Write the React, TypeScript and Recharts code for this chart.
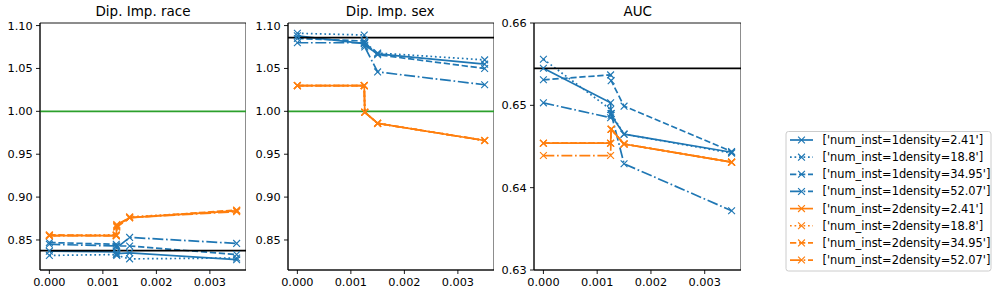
import { LineChart, Line, XAxis, YAxis, ReferenceLine, ReferenceArea } from "recharts"

const BLUE = "#1f77b4"
const ORANGE = "#ff7f0e"
const GREEN = "#2ca02c"
const FONT = "DejaVu Sans, sans-serif"

// x positions shared by every run
const xs = [0, 0.00125, 0.00126, 0.0015, 0.0035]
const xTicks = [0, 0.001, 0.002, 0.003]
const dipTicks = [0.85, 0.9, 0.95, 1.0, 1.05, 1.1]
const aucTicks = [0.63, 0.64, 0.65, 0.66]

const seriesNames = [
  "['num_inst=1density=2.41']",
  "['num_inst=1density=18.8']",
  "['num_inst=1density=34.95']",
  "['num_inst=1density=52.07']",
  "['num_inst=2density=2.41']",
  "['num_inst=2density=18.8']",
  "['num_inst=2density=34.95']",
  "['num_inst=2density=52.07']",
]

// Dip. Imp. race
const race1_241 = [0.837, 0.836, 0.834, 0.835, 0.827]
const race1_188 = [0.832, 0.833, 0.832, 0.828, 0.829]
const race1_3495 = [0.847, 0.845, 0.843, 0.843, 0.833]
const race1_5207 = [0.845, 0.843, 0.841, 0.853, 0.846]
const race2_241 = [0.855, 0.855, 0.867, 0.876, 0.884]
const race2_188 = [0.855, 0.856, 0.866, 0.877, 0.884]
const race2_3495 = [0.856, 0.855, 0.868, 0.876, 0.885]
const race2_5207 = [0.855, 0.855, 0.865, 0.876, 0.883]

// Dip. Imp. sex
const sex1_241 = [1.088, 1.079, 1.077, 1.067, 1.055]
const sex1_188 = [1.091, 1.089, 1.08, 1.068, 1.06]
const sex1_3495 = [1.085, 1.082, 1.08, 1.066, 1.05]
const sex1_5207 = [1.08, 1.08, 1.075, 1.046, 1.031]
const sex2_241 = [1.03, 1.03, 0.999, 0.986, 0.966]
const sex2_188 = [1.03, 1.03, 0.999, 0.986, 0.966]
const sex2_3495 = [1.03, 1.03, 0.999, 0.986, 0.966]
const sex2_5207 = [1.03, 1.03, 0.999, 0.986, 0.966]

// AUC
const auc1_241 = [0.6545, 0.6503, 0.6488, 0.6465, 0.6443]
const auc1_188 = [0.6556, 0.6495, 0.649, 0.6465, 0.6442]
const auc1_3495 = [0.6531, 0.6537, 0.653, 0.6499, 0.6444]
const auc1_5207 = [0.6503, 0.6485, 0.649, 0.6429, 0.6372]
const auc2_241 = [0.6454, 0.6454, 0.6471, 0.6453, 0.6431]
const auc2_188 = [0.6454, 0.6454, 0.6471, 0.6453, 0.6431]
const auc2_3495 = [0.6454, 0.6454, 0.6471, 0.6453, 0.6431]
const auc2_5207 = [0.6439, 0.6439, 0.6471, 0.6453, 0.6431]

// baselines drawn as horizontal lines
const raceBaseline = 0.8375
const sexBaseline = 1.086
const aucBaseline = 0.6545
const parity = 1.0

const dashes = [undefined, "1.7 2.8", "6.3 2.7", "10.9 2.7 1.7 2.7"]
const colors = [BLUE, BLUE, BLUE, BLUE, ORANGE, ORANGE, ORANGE, ORANGE]

const xDomain: [number, number] = [-0.000175, 0.003675]
const LW = 1.7

function toPoints(vals: number[]) {
  return xs.map((x, i) => ({ x, y: vals[i] }))
}

function XMark({ cx, cy, color }: { cx?: number; cy?: number; color: string }) {
  if (cx == null || cy == null) return <g />
  const s = 3.4
  return (
    <path
      d={`M${cx - s},${cy - s}L${cx + s},${cy + s}M${cx - s},${cy + s}L${cx + s},${cy - s}`}
      stroke={color}
      strokeWidth={1.15}
      fill="none"
    />
  )
}

interface PanelProps {
  left: number
  width: number
  runs: number[][]
  yDomain: [number, number]
  yTicks: number[]
  baseline: number
  showParity: boolean
}

const tickStyle = { fill: "#000", fontSize: 11.3, fontFamily: FONT }

function Panel({ left, width, runs, yDomain, yTicks, baseline, showParity }: PanelProps) {
  return (
    <div style={{ position: "absolute", left, top: 0 }}>
      <LineChart width={width} height={293} margin={{ top: 23, right: 0, bottom: 0, left: 0 }}>
        <XAxis
          type="number"
          dataKey="x"
          domain={xDomain}
          ticks={xTicks}
          allowDataOverflow
          height={23}
          tickSize={4}
          tickMargin={3.5}
          tick={tickStyle}
          axisLine={{ stroke: "#000", strokeWidth: 0.9 }}
          tickLine={{ stroke: "#000", strokeWidth: 0.9 }}
          tickFormatter={(v: number) => v.toFixed(3)}
        />
        <YAxis
          type="number"
          dataKey="y"
          domain={yDomain}
          ticks={yTicks}
          allowDataOverflow
          width={40}
          tickSize={4}
          tickMargin={3.3}
          tick={tickStyle}
          axisLine={{ stroke: "#000", strokeWidth: 0.9 }}
          tickLine={{ stroke: "#000", strokeWidth: 0.9 }}
          tickFormatter={(v: number) => v.toFixed(2)}
        />
        <ReferenceArea
          x1={xDomain[0]}
          x2={xDomain[1]}
          y1={yDomain[0]}
          y2={yDomain[1]}
          fill="none"
          stroke="#000"
          strokeWidth={0.9}
          strokeOpacity={1}
        />
        {runs.map((vals, i) => (
          <Line
            key={seriesNames[i]}
            data={toPoints(vals)}
            dataKey="y"
            type="linear"
            stroke={colors[i]}
            strokeWidth={LW}
            strokeDasharray={dashes[i % 4]}
            isAnimationActive={false}
            dot={(p: any) => <XMark key={`${i}-${p.index}`} cx={p.cx} cy={p.cy} color={colors[i]} />}
            activeDot={false}
          />
        ))}
        {showParity && <ReferenceLine y={parity} stroke={GREEN} strokeWidth={LW} />}
        <ReferenceLine y={baseline} stroke="#000" strokeWidth={LW} />
      </LineChart>
    </div>
  )
}

function Legend() {
  const top = 140
  const step = 17.15
  return (
    <g>
      <rect x={786} y={131.5} width={205} height={139.5} rx={2.5} fill="#fff" fillOpacity={0.8} stroke="#cccccc" strokeWidth={1} />
      {seriesNames.map((name, i) => {
        const y = top + i * step
        return (
          <g key={name}>
            <line x1={790} y1={y} x2={813} y2={y} stroke={colors[i]} strokeWidth={LW} strokeDasharray={dashes[i % 4]} />
            <XMark cx={801.5} cy={y} color={colors[i]} />
            <text x={822.5} y={y + 4} fontSize={11.4} fontFamily={FONT} fill="#000">
              {name}
            </text>
          </g>
        )
      })}
    </g>
  )
}

export default function App() {
  const dipDomain: [number, number] = [0.815, 1.103]
  return (
    <div style={{ position: "absolute", left: 0, top: 0, width: 997, height: 293, background: "#fff" }}>
      <Panel
        left={0}
        width={246}
        runs={[race1_241, race1_188, race1_3495, race1_5207, race2_241, race2_188, race2_3495, race2_5207]}
        yDomain={dipDomain}
        yTicks={dipTicks}
        baseline={raceBaseline}
        showParity
      />
      <Panel
        left={247.5}
        width={246}
        runs={[sex1_241, sex1_188, sex1_3495, sex1_5207, sex2_241, sex2_188, sex2_3495, sex2_5207]}
        yDomain={dipDomain}
        yTicks={dipTicks}
        baseline={sexBaseline}
        showParity
      />
      <Panel
        left={494.3}
        width={247}
        runs={[auc1_241, auc1_188, auc1_3495, auc1_5207, auc2_241, auc2_188, auc2_3495, auc2_5207]}
        yDomain={[0.63, 0.66]}
        yTicks={aucTicks}
        baseline={aucBaseline}
        showParity={false}
      />
      <svg width={997} height={293} style={{ position: "absolute", left: 0, top: 0, pointerEvents: "none" }}>
        <text x={143} y={15.7} textAnchor="middle" fontSize={13.5} fontFamily={FONT} fill="#000">
          Dip. Imp. race
        </text>
        <text x={390.2} y={15.7} textAnchor="middle" fontSize={13.5} fontFamily={FONT} fill="#000">
          Dip. Imp. sex
        </text>
        <text x={637.7} y={15.7} textAnchor="middle" fontSize={13.5} fontFamily={FONT} fill="#000">
          AUC
        </text>
        <Legend />
      </svg>
    </div>
  )
}
